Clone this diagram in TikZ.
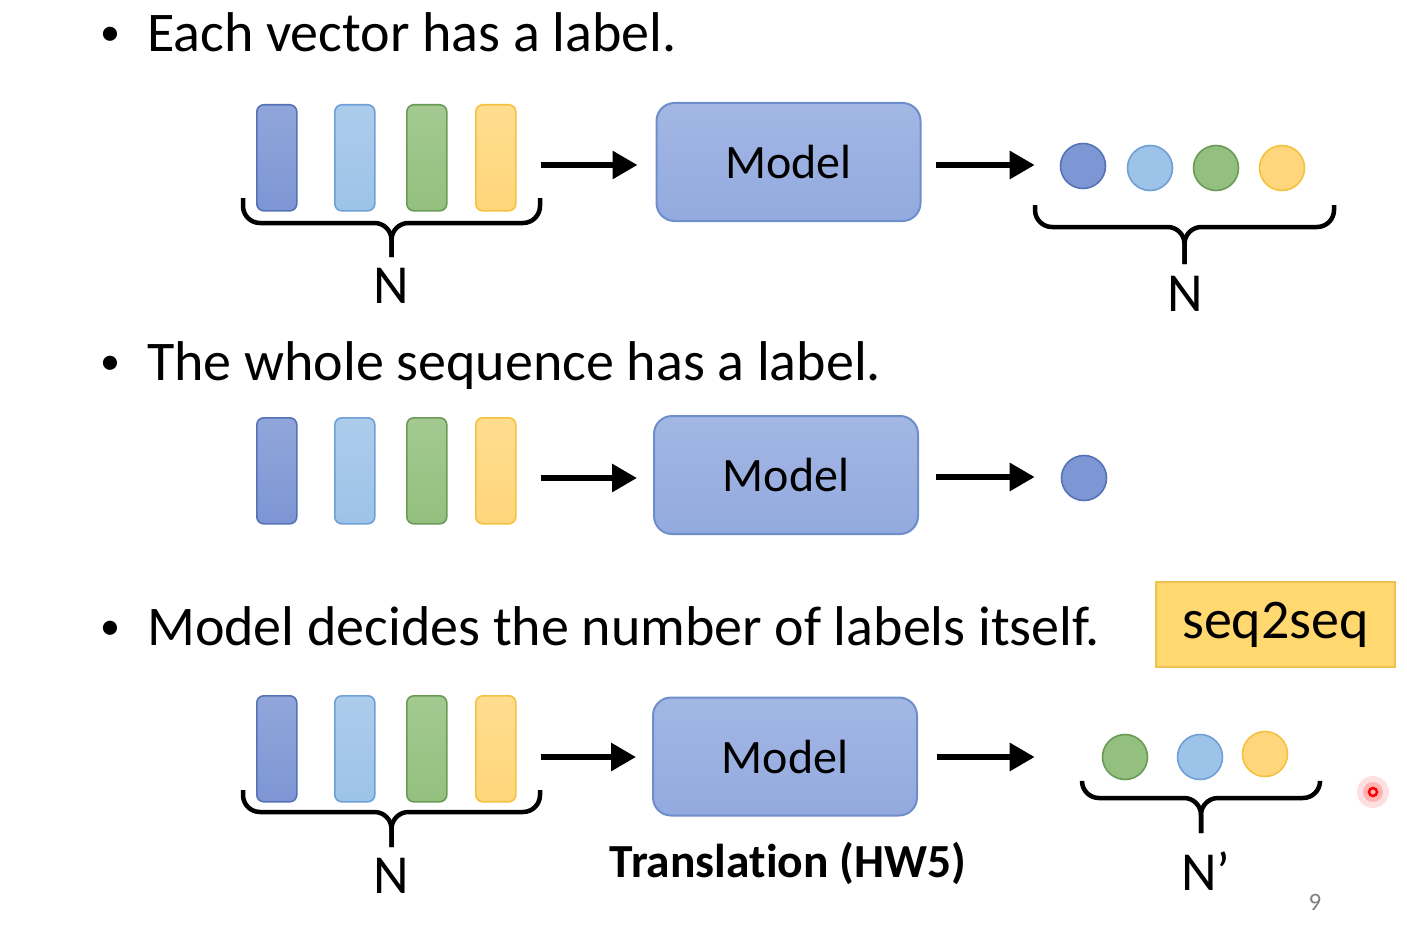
\documentclass[tikz,border=0pt]{standalone}
\usepackage{fontspec}
\setmainfont{Carlito}[Ligatures=NoCommon]
\usetikzlibrary{arrows.meta}
\definecolor{cB}{HTML}{7D96D4}
\definecolor{cBd}{HTML}{5672B6}
\definecolor{cL}{HTML}{9DC3E8}
\definecolor{cLd}{HTML}{6E9FD6}
\definecolor{cG}{HTML}{93C07E}
\definecolor{cGd}{HTML}{6A9B56}
\definecolor{cY}{HTML}{FFD67B}
\definecolor{cYd}{HTML}{F4C23F}
\definecolor{cM}{HTML}{93AADF}
\definecolor{cMd}{HTML}{6E8ECB}
\definecolor{cS}{HTML}{FFD86F}
\definecolor{cSd}{HTML}{F0C050}
\newcommand{\ubrace}[5]{%
  \draw[brc] (#1,#3) -- (#1,#4) -- ({(#1+#2)/2},#4) -- ({(#1+#2)/2},#5);
  \draw[brc] (#2,#3) -- (#2,#4) -- ({(#1+#2)/2},#4) -- ({(#1+#2)/2},#5);}
\tikzset{
  vec/.style={draw, line width=1.6pt, rounded corners=7pt, minimum width=40pt, minimum height=106pt, inner sep=0pt, anchor=north west},
  vb/.style={vec, top color=cB!85!white, bottom color=cB, draw=cBd},
  vl/.style={vec, top color=cL!85!white, bottom color=cL, draw=cLd},
  vg/.style={vec, top color=cG!85!white, bottom color=cG, draw=cGd},
  vy/.style={vec, top color=cY!85!white, bottom color=cY, draw=cYd},
  dot/.style={circle, draw, line width=1.6pt, minimum size=45pt, inner sep=0pt},
  db/.style={dot, fill=cB, draw=cBd},
  dl/.style={dot, fill=cL, draw=cLd},
  dg/.style={dot, fill=cG, draw=cGd},
  dy/.style={dot, fill=cY, draw=cYd},
  model/.style={draw=cMd, top color=cM!85!white, bottom color=cM, line width=2pt, rounded corners=18pt, minimum width=264pt, minimum height=118pt, inner sep=0pt, font=\fontsize{48}{56}\selectfont},
  bul/.style={inner sep=0pt, font=\fontsize{40}{48}\selectfont},
  txt/.style={inner sep=0pt, font=\fontsize{56}{66}\selectfont},
  lab/.style={inner sep=0pt, anchor=base, font=\fontsize{55}{66}\selectfont},
  arr/.style={line width=6pt, -{Triangle[length=25pt, width=27pt]}},
  brc/.style={line width=4.5pt, rounded corners=17pt},
}
\begin{document}
\begin{tikzpicture}[x=1pt, y=-1pt]
\useasboundingbox (0,0) rectangle (1407,928);
% ---------- Row 1
\node[bul, anchor=base] (b1) at (110,46) {•};
\node[txt, anchor=base west] (t1) at (147,52) {Each vector has a label.};
\node[vb] (v11) at (256,104) {};
\node[vl] (v12) at (334,104) {};
\node[vg] (v13) at (406,104) {};
\node[vy] (v14) at (475,104) {};
\node[model] (m1) at (788.5,162) {Model};
\node[db] (c11) at (1083,166) {};
\node[dl] (c12) at (1150,168) {};
\node[dg] (c13) at (1216,168) {};
\node[dy] (c14) at (1282,168) {};
\draw[arr, shorten <=24pt, shorten >=18pt] (v14.east |- 0,165) -- (m1.west |- 0,165);
\draw[arr, shorten <=14pt, shorten >=25pt] (m1.east |- 0,165) -- (c11.west |- 0,165);
\ubrace{243}{540}{198}{223}{257}
\ubrace{1035}{1334}{205}{227}{264}
\node[lab] (n1) at (391,303) {N};
\node[lab] (n2) at (1185,311) {N};
% ---------- Row 2
\node[bul, anchor=base] (b2) at (110,374) {•};
\node[txt, anchor=base west] (t2) at (147,380) {The whole sequence has a label.};
\node[vb] (v21) at (256,417) {};
\node[vl] (v22) at (334,417) {};
\node[vg] (v23) at (406,417) {};
\node[vy] (v24) at (475,417) {};
\node[model] (m2) at (786,475) {Model};
\node[db] (c21) at (1084,478) {};
\draw[arr, shorten <=24pt, shorten >=16pt] (v24.east |- 0,478) -- (m2.west |- 0,478);
\draw[arr, shorten <=17pt, shorten >=26pt] (m2.east |- 0,477) -- (c21.west |- 0,477);
% ---------- Row 3
\node[bul, anchor=base] (b3) at (110,639) {•};
\node[txt, anchor=base west] (t3) at (147,645) {Model decides the number of labels itself.};
\node[draw=cSd, fill=cS, line width=1.2pt, minimum width=239pt, minimum height=85pt, inner sep=0pt, font=\fontsize{56}{66}\selectfont] (s) at (1275.5,624.5) {seq2seq};
\node[vb] (v31) at (256,695) {};
\node[vl] (v32) at (334,695) {};
\node[vg] (v33) at (406,695) {};
\node[vy] (v34) at (475,695) {};
\node[model] (m3) at (785,756.5) {Model};
\node[dg] (c31) at (1125,757) {};
\node[dl] (c32) at (1200,757) {};
\node[dy] (c33) at (1265,754) {};
\draw[arr, shorten <=24pt, shorten >=16pt] (v34.east |- 0,757) -- (m3.west |- 0,757);
\draw[arr, shorten <=19pt, shorten >=67pt] (m3.east |- 0,757) -- (c31.west |- 0,757);
\ubrace{243}{540}{790}{812}{847}
\ubrace{1082}{1320}{782}{798}{833}
\node[lab] (n3) at (391,893) {N};
\node[lab] (n4) at (1206,890) {N’};
\node[inner sep=0pt, anchor=base, font=\bfseries\fontsize{47.5}{56}\selectfont] (tr) at (788,877) {Translation (HW5)};
% ---------- pointer and page number
\fill[red, opacity=0.12] (1373,792) circle (16);
\fill[red, opacity=0.2] (1373,792) circle (10);
\draw[red, line width=2.5pt] (1373,792) circle (4);
\node[inner sep=0pt, anchor=base, text=gray, font=\fontsize{25}{30}\selectfont] (pg) at (1315,910) {9};
\end{tikzpicture}
\end{document}
